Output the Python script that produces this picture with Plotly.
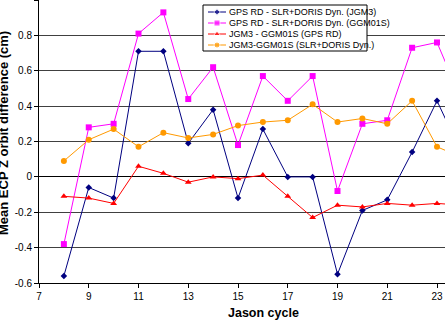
import plotly.graph_objects as go

cycles = [8, 9, 10, 11, 12, 13, 14, 15, 16, 17, 18, 19, 20, 21, 22, 23, 24]
gps_jgm3 = [-0.56, -0.06, -0.12, 0.71, 0.71, 0.19, 0.38, -0.12, 0.27, 0.0, 0.0, -0.55, -0.19, -0.13, 0.14, 0.43, 0.13]
gps_ggm01s = [-0.38, 0.28, 0.30, 0.81, 0.93, 0.44, 0.62, 0.18, 0.57, 0.43, 0.57, -0.08, 0.30, 0.32, 0.73, 0.76, 0.43]
jgm3_ggm01s_gps = [-0.11, -0.12, -0.15, 0.06, 0.02, -0.03, 0.0, -0.01, 0.01, -0.11, -0.23, -0.16, -0.17, -0.15, -0.16, -0.15, -0.16]
jgm3_ggm01s_slr = [0.09, 0.21, 0.27, 0.17, 0.25, 0.22, 0.24, 0.29, 0.31, 0.32, 0.41, 0.31, 0.33, 0.30, 0.43, 0.17, 0.11]

names = ["GPS RD - SLR+DORIS Dyn. (JGM3)",
         "GPS RD - SLR+DORIS Dyn. (GGM01S)",
         "JGM3 - GGM01S (GPS RD)",
         "JGM3-GGM01S (SLR+DORIS Dyn.)"]
x_ticks = [7, 9, 11, 13, 15, 17, 19, 21, 23]
y_ticks = [-0.6, -0.4, -0.2, 0, 0.2, 0.4, 0.6, 0.8, 1]
y_labels = ["-0.6", "-0.4", "-0.2", "0", "0.2", "0.4", "0.6", "0.8", "1"]

colors = ["#000080", "#FF00FF", "#FF0000", "#FF9900"]
symbols = ["diamond", "square", "triangle-up", "circle"]
sizes = [5, 6, 6, 6]
series = [gps_jgm3, gps_ggm01s, jgm3_ggm01s_gps, jgm3_ggm01s_slr]

W, H = 445, 328
ML, MR, MT, MB = 39, 0, 0, 45
PW, PH = W - ML - MR, H - MT - MB
XPX = 24.875          # pixels per cycle
Y0, Y1 = -0.6, 1.0

fig = go.Figure()
for vals, col, sym, sz, nm in zip(series, colors, symbols, sizes, names):
    fig.add_trace(go.Scatter(
        x=cycles, y=vals, name=nm, mode="lines+markers",
        line=dict(color=col, width=1),
        marker=dict(color=col, symbol=sym, size=sz),
        showlegend=False,
    ))

# custom legend (box + samples) on an overlay axis measured in pixels
LX0, LX1, LY0, LY1 = 203, 367, 5, 51
row_y = [12, 23, 34, 45]
fig.add_trace(go.Scatter(
    x=[LX0, LX1, LX1, LX0, LX0], y=[LY0, LY0, LY1, LY1, LY0],
    xaxis="x2", yaxis="y2", mode="lines", fill="toself", fillcolor="white",
    line=dict(color="black", width=1), showlegend=False, hoverinfo="skip",
))
for i, (col, sym, sz, nm) in enumerate(zip(colors, symbols, sizes, names)):
    fig.add_trace(go.Scatter(
        x=[208, 217, 226], y=[row_y[i]] * 3, xaxis="x2", yaxis="y2",
        mode="lines+markers", line=dict(color=col, width=1),
        marker=dict(color=col, symbol=sym, size=[0, sz, 0]),
        showlegend=False, hoverinfo="skip",
    ))

annotations = [
    dict(text=nm, xref="x2", yref="y2", x=227, y=row_y[i], xanchor="left",
         yanchor="middle", showarrow=False, font=dict(size=9))
    for i, nm in enumerate(names)
]
annotations += [
    dict(text="<b>Jason cycle</b>", xref="paper", yref="paper",
         x=(263 - ML) / PW, y=-(313 - MT - PH) / PH, xanchor="center", yanchor="middle",
         showarrow=False, font=dict(size=12.5)),
    dict(text="<b>Mean ECP Z orbit difference (cm)</b>", xref="paper", yref="paper",
         x=(3 - ML) / PW, y=1 - (133 - MT) / PH, xanchor="center", yanchor="middle",
         textangle=-90, showarrow=False, font=dict(size=13)),
]

fig.update_layout(
    width=W, height=H,
    margin=dict(l=ML, r=MR, t=MT, b=MB, autoexpand=False),
    paper_bgcolor="white", plot_bgcolor="white",
    font=dict(family="Arial, Liberation Sans, sans-serif", size=10, color="black"),
    showlegend=False,
    xaxis=dict(
        range=[7, 7 + PW / XPX], tickvals=x_ticks, showgrid=False, zeroline=False,
        showline=True, linecolor="black", linewidth=1, automargin=False,
        ticks="outside", ticklen=4, tickcolor="black",
    ),
    yaxis=dict(
        range=[Y0, Y1], tickvals=y_ticks, ticktext=y_labels,
        showgrid=True, gridcolor="#404040", gridwidth=1,
        zeroline=True, zerolinecolor="black", zerolinewidth=1,
        showline=True, linecolor="black", linewidth=1, automargin=False,
        ticks="outside", ticklen=4, tickcolor="black",
    ),
    xaxis2=dict(range=[ML, W - MR], overlaying="x", visible=False, fixedrange=True),
    yaxis2=dict(range=[H - MB, MT], overlaying="y", anchor="x2", visible=False, fixedrange=True),
    annotations=annotations,
)

fig.write_html("out.html", config={"displayModeBar": False},
               post_script="document.body.style.margin='0';document.body.style.overflow='hidden';")
